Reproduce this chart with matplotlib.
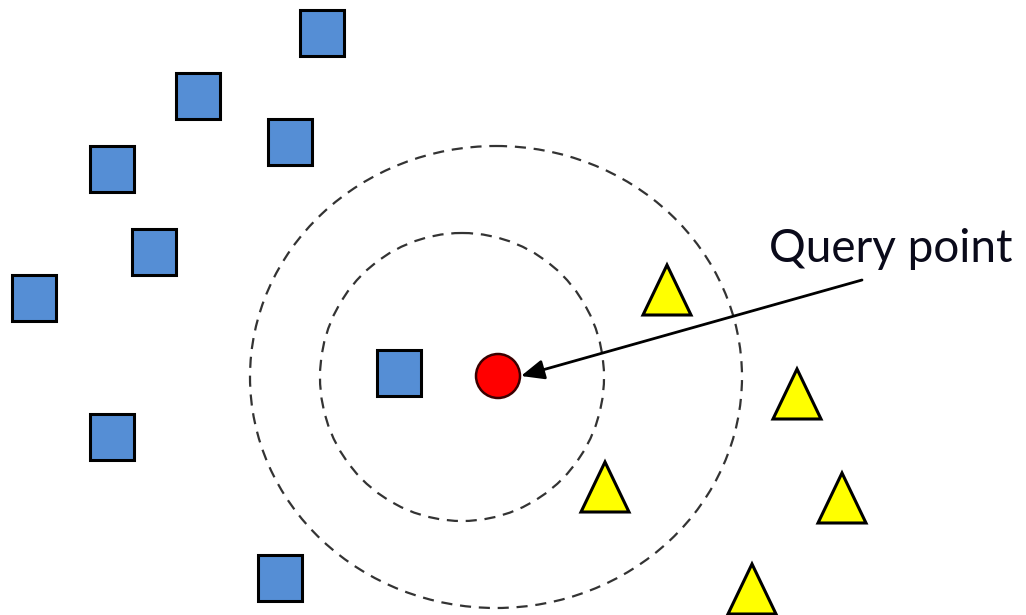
import matplotlib
matplotlib.use("Agg")
import matplotlib.pyplot as plt
from matplotlib.patches import Rectangle, Polygon, Circle, Ellipse

# positions in picture pixels (x right, y down)
square_x = [322, 198, 290, 112, 154, 34, 399, 112, 280]
square_y = [33, 96, 142, 169, 252, 298, 373, 437, 578]
tri_x = [667, 797, 605, 842, 752]
tri_y = [290, 394, 487, 498, 589]
query_x, query_y = 498, 376
rings = [(462, 377, 284, 288), (496, 377, 492, 462)]  # cx, cy, width, height
label = "Query point"

SQ_W, SQ_H = 44, 46
TR_W, TR_H = 48, 50

fig = plt.figure(figsize=(10.26, 6.15), dpi=100)
ax = fig.add_axes([0, 0, 1, 1])
ax.set_xlim(0, 1026)
ax.set_ylim(615, 0)
ax.axis("off")

for cx, cy, w, h in rings:
    ax.add_patch(Ellipse((cx, cy), w, h, fill=False, ec="#333333", lw=1.6,
                         ls=(0, (5, 3.5))))

for x, y in zip(square_x, square_y):
    ax.add_patch(Rectangle((x - SQ_W / 2, y - SQ_H / 2), SQ_W, SQ_H,
                           fc="#558ED5", ec="black", lw=2.2))

for x, y in zip(tri_x, tri_y):
    pts = [(x - TR_W / 2, y + TR_H / 2), (x + TR_W / 2, y + TR_H / 2), (x, y - TR_H / 2)]
    ax.add_patch(Polygon(pts, closed=True, fc="#FFFF00", ec="black", lw=2.2))

ax.add_patch(Circle((query_x, query_y), 22, fc="#FF0000", ec="#3a0000", lw=1.8))

ax.annotate("", xy=(query_x + 23, query_y), xytext=(862, 280),
            arrowprops=dict(arrowstyle="-|>,head_length=1.4,head_width=0.6",
                            color="black", lw=2, shrinkA=0, shrinkB=0))

ax.text(769, 249, label, fontsize=33, family="Lato", color="#0a0a1a",
        ha="left", va="center")

fig.savefig("out.png", dpi=100)
